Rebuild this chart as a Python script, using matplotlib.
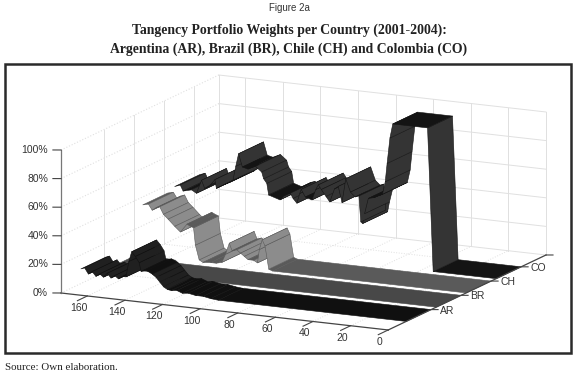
import matplotlib
matplotlib.use("Agg")
import matplotlib.pyplot as plt
from matplotlib.patches import Rectangle
from mpl_toolkits.mplot3d import proj3d
from mpl_toolkits.mplot3d.art3d import Poly3DCollection

# weights, time runs from high to low
ar_t = [173, 171, 169, 167, 165, 163, 161, 159, 157, 155, 153, 151, 149, 147.5, 146, 144, 142, 141, 138, 135, 133, 131, 129, 127, 125, 122, 119, 116, 112, 108, 104, 100, 0]
ar_w = [11, 12, 8, 10, 7, 9, 7, 10, 7, 9, 7, 9, 9, 20, 27, 24, 20, 14, 15, 13, 11, 8, 5, 3.5, 3, 3.5, 2, 2.5, 1.5, 1.5, 0.5, 0, 0]
br_t = [172, 165, 158, 152, 150, 0]
br_w = [3, 4, 2.5, 2, 0, 0]
ch_t = [172, 169, 167, 165, 163, 161, 158.5, 155, 152, 148.5, 147, 145, 144, 142, 140, 136, 133, 130, 128, 126, 124.5, 122, 120, 118, 116, 113, 111, 110, 108.5, 107, 105, 103, 0]
ch_w = [36, 37, 33, 35, 36, 31, 28, 23.5, 20, 26, 25, 24, 12, 2, 0.5, 1, 1, 2, 8, 16, 11, 12, 10, 8, 6, 6, 4.5, 14, 21, 17, 1, 0, 0]
co_t = [171, 168, 166.5, 162, 159.4, 156.7, 155, 152, 149.6, 148.8, 145, 142, 140, 138.5, 137, 135, 132, 128, 124.7, 123.7, 122, 121, 115, 113, 111.7, 109.5, 108, 106, 104.5, 103.7, 101.5, 98, 96, 94.6, 93, 90.5, 88.5, 86, 84, 82, 80, 77.5, 75, 73, 72, 71, 70, 68, 65, 62, 60.5, 59, 58, 56.5, 55, 36.5, 33.5, 0]
co_w = [39, 40.5, 36.5, 38, 36, 45.5, 40, 43, 47, 41, 44, 46, 48, 58, 67, 58, 57, 59.5, 56, 51.5, 48.5, 40.5, 38, 41, 42.5, 43.5, 40, 37, 44, 47, 42, 40.5, 48, 51.5, 48.5, 44, 40.5, 50, 52, 41, 58, 49, 46, 47, 29, 28, 35, 46, 47, 49, 50, 59, 72, 90, 100, 100, 0, 0]

countries = ["AR", "BR", "CH", "CO"]
y_pos = [1, 2, 3, 4]
series_t = [ar_t, br_t, ch_t, co_t]
series_w = [ar_w, br_w, ch_w, co_w]
flat_col = ["#101010", "#484848", "#5a5a5a", "#141414"]
steep_col = ["#202020", "#484848", "#8c8c8c", "#343434"]
x_ticks = [0, 20, 40, 60, 80, 100, 120, 140, 160]
z_ticks = [0, 20, 40, 60, 80, 100]
z_labels = ["0%", "20%", "40%", "60%", "80%", "100%"]

x_lim = (174, 0)
y_lim = (-0.43, 4.83)
width = 0.83
grid_c = "#e0e0e0"
axis_c = "#444444"
text_c = "#333333"

plt.rcParams["font.family"] = ["Liberation Sans", "DejaVu Sans"]
fig = plt.figure(figsize=(5.78, 3.79), dpi=100)

fig.add_artist(Rectangle((5 / 578, 1 - 353 / 379), 566 / 578, 289 / 379, transform=fig.transFigure,
                         fill=False, ec="#2a2a2a", lw=1.8))
fig.text(289 / 578, 1 - 8 / 379, "Figure 2a", ha="center", va="center", fontsize=7, color=text_c)
fig.text(289 / 578, 1 - 30 / 379, "Tangency Portfolio Weights per Country (2001-2004):", ha="center", va="center",
         fontsize=9.9, fontweight="bold", family="Liberation Serif", color="#222222")
fig.text(289 / 578, 1 - 49 / 379, "Argentina (AR), Brazil (BR), Chile (CH) and Colombia (CO)", ha="center", va="center",
         fontsize=9.9, fontweight="bold", family="Liberation Serif", color="#222222")
fig.text(5 / 578, 1 - 368 / 379, "Source: Own elaboration.", ha="left", va="center",
         fontsize=7.9, family="Liberation Serif", color="#222222")

ax = fig.add_axes([0, 0, 500 / 578, 500 / 379], projection="3d", proj_type="ortho", computed_zorder=False)
ax.view_init(elev=13.4, azim=-64)
ax.set_box_aspect((364, 360, 147))
ax.set_xlim(*x_lim)
ax.set_ylim(*y_lim)
ax.set_zlim(0, 100)
ax.set_axis_off()
ax.patch.set_alpha(0)


def to_px(x, y, z):
    xp, yp, _ = proj3d.proj_transform(x, y, z, ax.get_proj())
    return ax.transData.transform((xp, yp))


def label(x, y, z, dx, dy, s, ha):
    # tick label at a pixel offset from a point on the axis
    p = to_px(x, y, z)
    fig.text((p[0] + dx) / 578, (p[1] + dy) / 379, s, ha=ha, va="center", fontsize=7.5, color=text_c)


# fit the box onto the pixel corners of the reference
a = to_px(x_lim[0], y_lim[0], 0)
b = to_px(x_lim[1], y_lim[1], 0)
side = 500 * (546 - 61) / (b[0] - a[0])
ax.set_position([0, 0, side / 578, side / 379])
a = to_px(x_lim[0], y_lim[0], 0)
ax.set_position([(61 - a[0]) / 578, (379 - 293 - a[1]) / 379, side / 578, side / 379])

# walls and floor
for t in x_ticks:
    ax.plot([t, t], [y_lim[1]] * 2, [0, 100], color=grid_c, lw=0.7, zorder=1)
    ax.plot([t, t], y_lim, [0, 0], color=grid_c, lw=0.7, ls=":", zorder=1)
for z in z_ticks:
    ax.plot(x_lim, [y_lim[1]] * 2, [z, z], color=grid_c, lw=0.7, zorder=1)
    ax.plot([x_lim[0]] * 2, y_lim, [z, z], color=grid_c, lw=0.8, ls=":", zorder=1)
for y in y_pos:
    ax.plot([x_lim[0]] * 2, [y, y], [0, 100], color=grid_c, lw=0.7, zorder=1)
    ax.plot(x_lim, [y, y], [0, 0], color=grid_c, lw=0.7, ls=":", zorder=1)
ax.plot([x_lim[0]] * 2, [y_lim[1]] * 2, [0, 100], color=grid_c, lw=0.7, zorder=1)

# ribbons, back one first
for i in [3, 2, 1, 0]:
    t, w, y = series_t[i], series_w[i], y_pos[i]
    verts, cols = [], []
    for k in range(len(t) - 1):
        verts.append([(t[k], y - width, w[k]), (t[k], y, w[k]), (t[k + 1], y, w[k + 1]), (t[k + 1], y - width, w[k + 1])])
        steep = abs(w[k + 1] - w[k]) / abs(t[k + 1] - t[k]) > 0.7
        cols.append(steep_col[i] if steep else flat_col[i])
    ribbon = Poly3DCollection(verts, facecolors=cols, edgecolors=flat_col[i], linewidths=0.4, zorder=2 + 3 - i)
    ax.add_collection3d(ribbon)

# axis lines and ticks
ax.plot(x_lim, [y_lim[0]] * 2, [0, 0], color=axis_c, lw=0.9, zorder=8)
ax.plot([x_lim[1]] * 2, y_lim, [0, 0], color=axis_c, lw=0.9, zorder=8)
ax.plot([x_lim[0]] * 2, [y_lim[0]] * 2, [0, 100], color="#777777", lw=0.9, zorder=8)
for t in x_ticks:
    ax.plot([t, t], [y_lim[0], y_lim[0] - 0.33], [0, 0], color=axis_c, lw=0.8, zorder=8)
    label(t, y_lim[0], 0, -8.5, -12, str(t), "center")
for z, lab in zip(z_ticks, z_labels):
    ax.plot([x_lim[0], x_lim[0] + 3.5], [y_lim[0], y_lim[0] - 0.05], [z, z], color=axis_c, lw=0.8, zorder=8)
    label(x_lim[0], y_lim[0], z, -13, 0, lab, "right")
for y, lab in zip(y_pos, countries):
    ax.plot([0, -3], [y, y + 0.045], [0, 0], color=axis_c, lw=0.8, zorder=8)
    label(0, y, 0, 9, -1, lab, "left")
ax.plot([0, -3], [y_lim[1], y_lim[1] + 0.045], [0, 0], color=axis_c, lw=0.8, zorder=8)

fig.savefig("out.png", dpi=100)
